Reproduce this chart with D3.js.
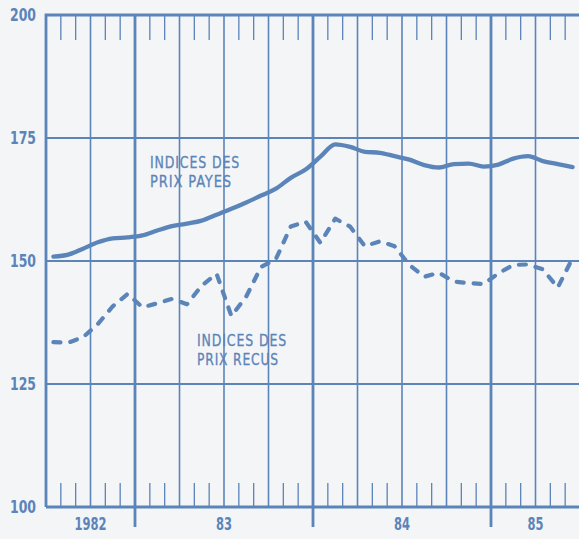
<!DOCTYPE html>
<html>
<head>
<meta charset="utf-8">
<script src="https://cdn.jsdelivr.net/npm/d3@7"></script>
<style>
  body { margin: 0; background: #f4f5f7; }
  svg { display: block; }
</style>
</head>
<body>
<svg id="chart"></svg>
<script>
// monthly data, Jul 1982 - Jun 1985
const months = [
  "1982-07", "1982-08", "1982-09", "1982-10", "1982-11", "1982-12",
  "1983-01", "1983-02", "1983-03", "1983-04", "1983-05", "1983-06",
  "1983-07", "1983-08", "1983-09", "1983-10", "1983-11", "1983-12",
  "1984-01", "1984-02", "1984-03", "1984-04", "1984-05", "1984-06",
  "1984-07", "1984-08", "1984-09", "1984-10", "1984-11", "1984-12",
  "1985-01", "1985-02", "1985-03", "1985-04", "1985-05", "1985-06"
];
const prixPayes = [
  150.9, 151.3, 152.5, 153.8, 154.6, 154.8,
  155.2, 156.2, 157.1, 157.6, 158.2, 159.4,
  160.6, 161.9, 163.3, 164.7, 166.9, 168.6,
  171.2, 173.7, 173.2, 172.2, 172.0, 171.3,
  170.6, 169.5, 169.0, 169.7, 169.8, 169.2,
  169.6, 170.8, 171.3, 170.3, 169.7, 169.1
];
const prixRecus = [
  133.5, 133.4, 134.5, 137.2, 140.8, 143.3,
  140.6, 141.4, 142.3, 141.2, 145.0, 147.4,
  138.8, 142.8, 148.8, 150.4, 157.0, 158.0,
  153.7, 158.6, 157.0, 153.0, 154.0, 153.0,
  149.2, 146.8, 147.6, 145.8, 145.5, 145.3,
  147.5, 149.2, 149.3, 148.3, 144.6, 150.6
];
const yTicks = [100, 125, 150, 175, 200];
const yearLabels = ["1982", "83", "84", "85"];

const width = 579;
const height = 539;
const margin = { top: 15, right: -1, bottom: 32, left: 46 };
const blue = "#5b84b9";
const font = "'Liberation Sans Narrow', 'DejaVu Sans Condensed', sans-serif";

const svg = d3.select("#chart").attr("width", width).attr("height", height);

// month index scale (0 = start of Jul 1982)
const x = d3.scaleLinear()
  .domain([0, months.length])
  .range([margin.left, width - margin.right]);

const y = d3.scaleLinear()
  .domain([100, 200])
  .range([height - margin.bottom, margin.top]);

const y0 = y(100), yTop = y(200);
const grid = svg.append("g").attr("stroke", blue).attr("fill", "none");

// vertical lines: years (thick), quarters, month ticks top and bottom
d3.range(1, months.length + 1).forEach(m => {
  const label = m < months.length ? months[m] : "1985-07";
  const mon = +label.slice(5);
  const xx = x(m);
  if (mon === 1) {
    grid.append("line").attr("x1", xx).attr("x2", xx)
      .attr("y1", yTop).attr("y2", y0 + 20).attr("stroke-width", 2.8);
  } else if ((mon - 1) % 3 === 0) {
    grid.append("line").attr("x1", xx).attr("x2", xx)
      .attr("y1", yTop).attr("y2", y0).attr("stroke-width", 1.6);
  } else {
    grid.append("line").attr("x1", xx).attr("x2", xx)
      .attr("y1", yTop).attr("y2", yTop + 25).attr("stroke-width", 1.3);
    grid.append("line").attr("x1", xx).attr("x2", xx)
      .attr("y1", y0 - 24).attr("y2", y0).attr("stroke-width", 1.3);
  }
});

// horizontal gridlines
[125, 150, 175].forEach(v => {
  grid.append("line").attr("x1", x(0)).attr("x2", width)
    .attr("y1", y(v)).attr("y2", y(v)).attr("stroke-width", 1.8);
});

// frame: left, top, bottom
grid.append("path")
  .attr("d", `M${x(0)},${y0}V${yTop}H${width}M${x(0)},${y0}H${width}`)
  .attr("stroke-width", 2.8);

// y labels
const yAxis = svg.append("g")
  .attr("transform", `translate(${margin.left - 10},0)`)
  .call(d3.axisLeft(y).tickValues(yTicks).tickSize(0).tickPadding(0));
yAxis.select(".domain").remove();
yAxis.selectAll("text")
  .attr("fill", blue)
  .style("font-family", font)
  .style("font-weight", "bold")
  .style("font-size", "17px")
  .attr("textLength", 26)
  .attr("lengthAdjust", "spacingAndGlyphs");

// year labels centred in each year span
const yearStarts = [0, 6, 18, 30, 36];
yearLabels.forEach((lab, i) => {
  svg.append("text")
    .attr("x", (x(yearStarts[i]) + x(yearStarts[i + 1])) / 2)
    .attr("y", y0 + 23)
    .attr("text-anchor", "middle")
    .attr("fill", blue)
    .style("font-family", font)
    .style("font-weight", "bold")
    .style("font-size", "17px")
    .attr("textLength", lab.length * 8)
    .attr("lengthAdjust", "spacingAndGlyphs")
    .text(lab);
});

// lines
const line = d3.line()
  .x((d, i) => x(i + 0.5))
  .y(d => y(d))
  .curve(d3.curveMonotoneX);

svg.append("path")
  .datum(prixPayes)
  .attr("fill", "none")
  .attr("stroke", blue)
  .attr("stroke-width", 4.3)
  .attr("stroke-linecap", "round")
  .attr("stroke-linejoin", "round")
  .attr("d", line);

svg.append("path")
  .datum(prixRecus)
  .attr("fill", "none")
  .attr("stroke", blue)
  .attr("stroke-width", 4.2)
  .attr("stroke-dasharray", "7,10")
  .attr("stroke-linecap", "round")
  .attr("stroke-linejoin", "round")
  .attr("d", line.curve(d3.curveLinear));

// series labels
const seriesLabels = [
  { lines: ["INDICES DES", "PRIX PAYES"], x: 150, y: 168 },
  { lines: ["INDICES DES", "PRIX RECUS"], x: 197, y: 346 }
];
seriesLabels.forEach(s => {
  s.lines.forEach((t, i) => {
    svg.append("text")
      .attr("x", s.x)
      .attr("y", s.y + i * 19)
      .attr("fill", blue)
      .style("font-family", font)
      .style("font-size", "16px")
      .style("font-weight", "500")
      .style("letter-spacing", "1px")
      .attr("stroke", blue)
      .attr("stroke-width", 0.3)
      .attr("textLength", t.length === 11 ? 90 : 82)
      .attr("lengthAdjust", "spacingAndGlyphs")
      .text(t);
  });
});
</script>
</body>
</html>
